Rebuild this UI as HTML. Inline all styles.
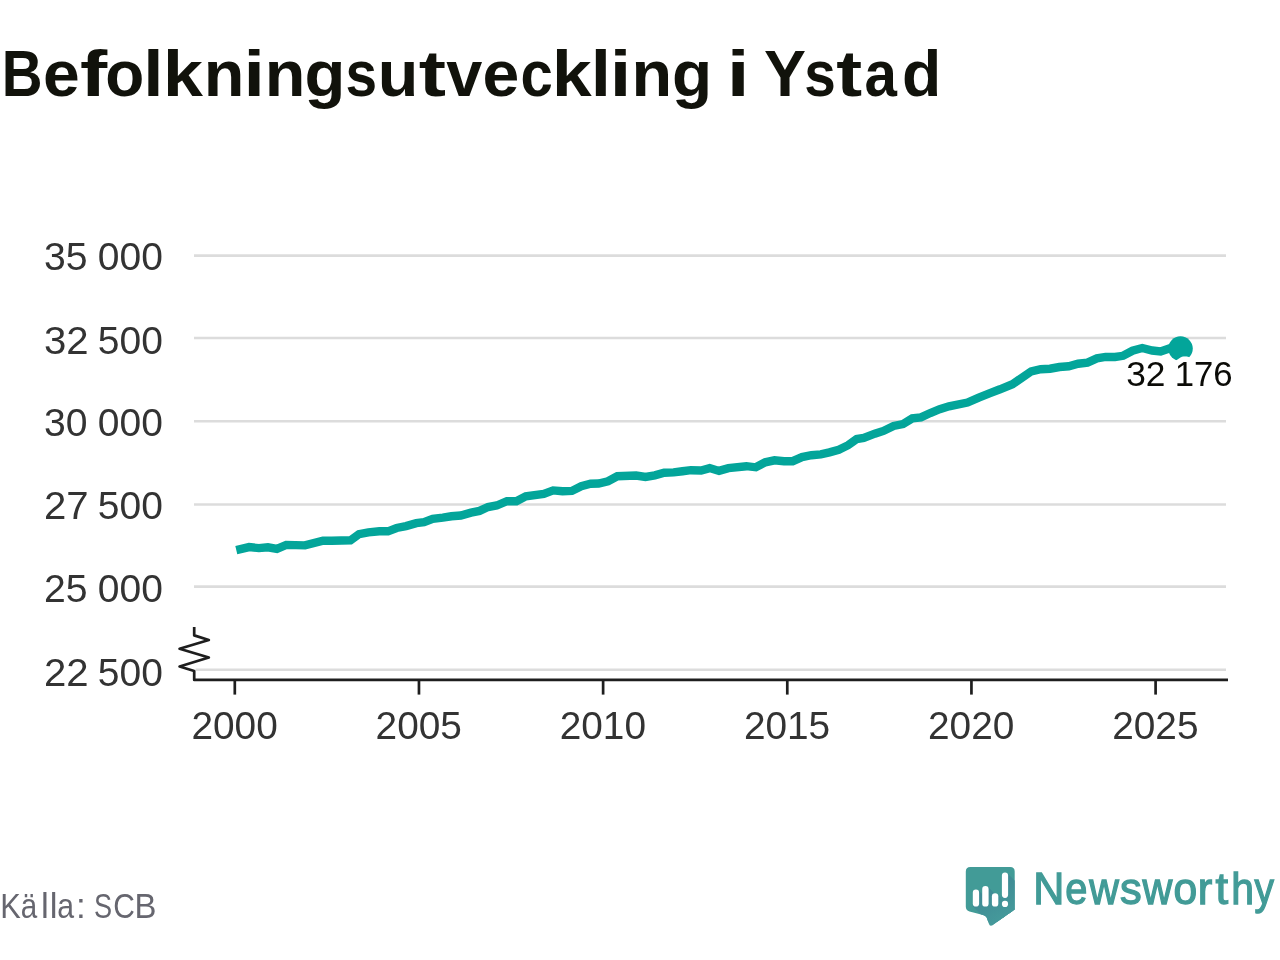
<!DOCTYPE html>
<html><head><meta charset="utf-8"><title>Befolkningsutveckling i Ystad</title>
<style>
html,body{margin:0;padding:0;background:#fff;}
body{width:1280px;height:960px;overflow:hidden;position:relative;font-family:"Liberation Sans",sans-serif;}
svg{position:absolute;left:0;top:0;will-change:transform;}
text{font-family:"Liberation Sans",sans-serif;}
</style></head>
<body>
<svg width="1280" height="960" viewBox="0 0 1280 960">
<line x1="194" x2="1226" y1="255.60" y2="255.60" stroke="#dcdcdc" stroke-width="2.6"/>
<line x1="194" x2="1226" y1="338.00" y2="338.00" stroke="#dcdcdc" stroke-width="2.6"/>
<line x1="194" x2="1226" y1="421.20" y2="421.20" stroke="#dcdcdc" stroke-width="2.6"/>
<line x1="194" x2="1226" y1="504.50" y2="504.50" stroke="#dcdcdc" stroke-width="2.6"/>
<line x1="194" x2="1226" y1="586.60" y2="586.60" stroke="#dcdcdc" stroke-width="2.6"/>
<line x1="195.5" x2="1226" y1="669.80" y2="669.80" stroke="#dcdcdc" stroke-width="2.6"/>
<path d="M194.2,627 L194.2,635.4 L208.8,640 L179.6,648.75 L208.8,657.5 L179.6,666.5 L194.2,671 L194.2,679.9 L1228,679.9" fill="none" stroke="#1e1e1e" stroke-width="2.7" stroke-linejoin="round"/>
<line x1="234.80" x2="234.80" y1="679.9" y2="694.6" stroke="#1e1e1e" stroke-width="2.7"/>
<line x1="418.96" x2="418.96" y1="679.9" y2="694.6" stroke="#1e1e1e" stroke-width="2.7"/>
<line x1="603.12" x2="603.12" y1="679.9" y2="694.6" stroke="#1e1e1e" stroke-width="2.7"/>
<line x1="787.28" x2="787.28" y1="679.9" y2="694.6" stroke="#1e1e1e" stroke-width="2.7"/>
<line x1="971.44" x2="971.44" y1="679.9" y2="694.6" stroke="#1e1e1e" stroke-width="2.7"/>
<line x1="1155.60" x2="1155.60" y1="679.9" y2="694.6" stroke="#1e1e1e" stroke-width="2.7"/>
<path d="M236.3,550.2 L249.1,547.1 L258.9,548.1 L267.9,547.3 L276.9,548.9 L286.25,544.9 L305,545.4 L323,540.6 L331.7,540.7 L350.5,540.3 L359,534.1 L368.4,532.3 L379.4,531.3 L388,531.3 L396.6,528 L406,526.1 L416.3,523.2 L424,522.1 L432.7,518.75 L442.8,517.6 L451.4,516.25 L460.8,515.5 L471,512.7 L479.5,510.9 L488,507 L496.7,505.5 L506.9,501.2 L516.4,501.3 L525.8,496.25 L543.75,493.9 L553.1,490.4 L562.5,491.2 L571.9,490.9 L581.25,486.25 L590.6,483.75 L598.6,483.5 L608,481.25 L617.3,476.2 L636.1,475.5 L645.5,477 L654.8,475.4 L664.2,472.7 L673.6,472.4 L682.5,471.25 L690.9,470.2 L701.1,470.5 L709.7,468.1 L719,470.9 L728.4,468.1 L746.4,466.2 L755.8,467.3 L765.2,462.3 L774.5,460.3 L784,461.2 L792.7,461.2 L802,457.1 L811.4,455.2 L820.8,454.4 L829.4,452.4 L838.75,449.7 L848.1,445.2 L856.7,439.1 L863.75,438 L874.8,433.7 L883.4,430.9 L893.6,425.9 L903,424.1 L912.3,418.4 L920.9,417.3 L930.3,413 L939.7,409.2 L949,406.3 L967.5,402.5 L978.75,397.6 L990,393.1 L1000,389.3 L1012.5,384.2 L1031.25,371.4 L1040.7,369.2 L1050,368.75 L1059.4,367 L1068.75,366.3 L1078.1,363.75 L1087.5,362.6 L1096.9,358.4 L1105.6,356.9 L1115,357 L1123.1,355.8 L1132.5,350.7 L1142.3,348 L1152.2,350.5 L1160.6,351.5 L1170,348.2 L1180.5,348.5" fill="none" stroke="#03a59a" stroke-width="8.4" stroke-linejoin="miter" stroke-linecap="butt"/>
<circle cx="1180.5" cy="348.6" r="12.3" fill="#03a59a"/>
<text transform="translate(1126.20,385.6) scale(1.0243,1)" style="font-size:34.5px;fill:#0b0b07;fill:#fff;stroke:#fff;stroke-width:11px;stroke-linejoin:round;">32</text>
<text transform="translate(1174.68,385.6) scale(1.0075,1)" style="font-size:34.5px;fill:#0b0b07;fill:#fff;stroke:#fff;stroke-width:11px;stroke-linejoin:round;">176</text>
<text transform="translate(1126.20,385.6) scale(1.0243,1)" style="font-size:34.5px;fill:#0b0b07;">32</text>
<text transform="translate(1174.68,385.6) scale(1.0075,1)" style="font-size:34.5px;fill:#0b0b07;">176</text>
<text transform="translate(1.80,95.8) scale(0.8625,1)" style="font-size:65.5px;fill:#11120b;font-weight:bold;">B</text>
<text transform="translate(42.98,95.8) scale(1.0081,1)" style="font-size:65.5px;fill:#11120b;font-weight:bold;">e</text>
<text transform="translate(80.00,95.8) scale(1.2500,1)" style="font-size:65.5px;fill:#11120b;font-weight:bold;">f</text>
<text transform="translate(105.17,95.8) scale(0.9750,1)" style="font-size:65.5px;fill:#11120b;font-weight:bold;">o</text>
<text transform="translate(143.19,95.8) scale(1.1111,1)" style="font-size:65.5px;fill:#11120b;font-weight:bold;">l</text>
<text transform="translate(163.02,95.8) scale(1.0968,1)" style="font-size:65.5px;fill:#11120b;font-weight:bold;">k</text>
<text transform="translate(203.69,95.8) scale(1.0156,1)" style="font-size:65.5px;fill:#11120b;font-weight:bold;">n</text>
<text transform="translate(243.51,95.8) scale(1.1778,1)" style="font-size:65.5px;fill:#11120b;font-weight:bold;">i</text>
<text transform="translate(264.69,95.8) scale(1.0156,1)" style="font-size:65.5px;fill:#11120b;font-weight:bold;">n</text>
<text transform="translate(304.43,95.8) scale(1.0227,1)" style="font-size:65.5px;fill:#11120b;font-weight:bold;">g</text>
<text transform="translate(345.50,95.8) scale(0.8677,1)" style="font-size:65.5px;fill:#11120b;font-weight:bold;">s</text>
<text transform="translate(377.84,95.8) scale(1.0156,1)" style="font-size:65.5px;fill:#11120b;font-weight:bold;">u</text>
<text transform="translate(418.75,95.8) scale(1.2500,1)" style="font-size:65.5px;fill:#11120b;font-weight:bold;">t</text>
<text transform="translate(446.25,95.8) scale(0.9903,1)" style="font-size:65.5px;fill:#11120b;font-weight:bold;">v</text>
<text transform="translate(482.57,95.8) scale(1.0097,1)" style="font-size:65.5px;fill:#11120b;font-weight:bold;">e</text>
<text transform="translate(520.44,95.8) scale(0.8871,1)" style="font-size:65.5px;fill:#11120b;font-weight:bold;">c</text>
<text transform="translate(552.06,95.8) scale(1.0887,1)" style="font-size:65.5px;fill:#11120b;font-weight:bold;">k</text>
<text transform="translate(590.69,95.8) scale(1.1111,1)" style="font-size:65.5px;fill:#11120b;font-weight:bold;">l</text>
<text transform="translate(609.68,95.8) scale(1.1833,1)" style="font-size:65.5px;fill:#11120b;font-weight:bold;">i</text>
<text transform="translate(631.54,95.8) scale(1.0156,1)" style="font-size:65.5px;fill:#11120b;font-weight:bold;">n</text>
<text transform="translate(671.99,95.8) scale(1.0030,1)" style="font-size:65.5px;fill:#11120b;font-weight:bold;">g</text>
<text transform="translate(726.82,95.8) scale(1.2556,1)" style="font-size:65.5px;fill:#11120b;font-weight:bold;">i</text>
<text transform="translate(764.04,95.8) scale(0.9610,1)" style="font-size:65.5px;fill:#11120b;font-weight:bold;">Y</text>
<text transform="translate(804.30,95.8) scale(0.8661,1)" style="font-size:65.5px;fill:#11120b;font-weight:bold;">s</text>
<text transform="translate(836.31,95.8) scale(1.1875,1)" style="font-size:65.5px;fill:#11120b;font-weight:bold;">t</text>
<text transform="translate(864.47,95.8) scale(0.8900,1)" style="font-size:65.5px;fill:#11120b;font-weight:bold;">a</text>
<text transform="translate(901.95,95.8) scale(0.9818,1)" style="font-size:65.5px;fill:#11120b;font-weight:bold;">d</text>
<text transform="translate(43.99,270.3) scale(1.0295,1)" style="font-size:38px;fill:#333;">35</text>
<text transform="translate(97.85,270.3) scale(1.0267,1)" style="font-size:38px;fill:#333;">000</text>
<text transform="translate(43.94,353.5) scale(1.0566,1)" style="font-size:38px;fill:#333;">32</text>
<text transform="translate(97.85,353.5) scale(1.0267,1)" style="font-size:38px;fill:#333;">500</text>
<text transform="translate(43.99,436.0) scale(1.0295,1)" style="font-size:38px;fill:#333;">30</text>
<text transform="translate(97.85,436.0) scale(1.0267,1)" style="font-size:38px;fill:#333;">000</text>
<text transform="translate(43.94,519.1) scale(1.0566,1)" style="font-size:38px;fill:#333;">27</text>
<text transform="translate(97.85,519.1) scale(1.0267,1)" style="font-size:38px;fill:#333;">500</text>
<text transform="translate(43.99,602.3) scale(1.0295,1)" style="font-size:38px;fill:#333;">25</text>
<text transform="translate(97.85,602.3) scale(1.0267,1)" style="font-size:38px;fill:#333;">000</text>
<text transform="translate(43.94,685.6) scale(1.0566,1)" style="font-size:38px;fill:#333;">22</text>
<text transform="translate(97.85,685.6) scale(1.0267,1)" style="font-size:38px;fill:#333;">500</text>
<text transform="translate(191.41,739.0) scale(1.0210,1)" style="font-size:38px;fill:#333;">2000</text>
<text transform="translate(375.57,739.0) scale(1.0210,1)" style="font-size:38px;fill:#333;">2005</text>
<text transform="translate(559.73,739.0) scale(1.0210,1)" style="font-size:38px;fill:#333;">2010</text>
<text transform="translate(743.89,739.0) scale(1.0210,1)" style="font-size:38px;fill:#333;">2015</text>
<text transform="translate(928.05,739.0) scale(1.0210,1)" style="font-size:38px;fill:#333;">2020</text>
<text transform="translate(1112.21,739.0) scale(1.0210,1)" style="font-size:38px;fill:#333;">2025</text>
<text transform="translate(0.16,917.7) scale(0.8800,1)" style="font-size:35px;fill:#66666f;">K</text>
<text transform="translate(20.81,917.7) scale(0.8471,1)" style="font-size:35px;fill:#66666f;">ä</text>
<text transform="translate(41.00,917.7) scale(1.0000,1)" style="font-size:35px;fill:#66666f;">l</text>
<text transform="translate(49.78,917.7) scale(1.0000,1)" style="font-size:35px;fill:#66666f;">l</text>
<text transform="translate(57.37,917.7) scale(0.8647,1)" style="font-size:35px;fill:#66666f;">a</text>
<text transform="translate(76.03,917.7) scale(1.0000,1)" style="font-size:35px;fill:#66666f;">:</text>
<text transform="translate(94.05,917.7) scale(0.7750,1)" style="font-size:35px;fill:#66666f;">S</text>
<text transform="translate(113.29,917.7) scale(0.8571,1)" style="font-size:35px;fill:#66666f;">C</text>
<text transform="translate(134.38,917.7) scale(0.9389,1)" style="font-size:35px;fill:#66666f;">B</text>
<text transform="translate(1033.23,903.7) scale(0.9577,1)" style="font-size:45px;fill:#429b97;stroke:#429b97;stroke-width:1.3px;">N</text>
<text transform="translate(1065.17,903.7) scale(0.8848,1)" style="font-size:45px;fill:#429b97;stroke:#429b97;stroke-width:1.3px;">e</text>
<text transform="translate(1089.31,903.7) scale(0.9118,1)" style="font-size:45px;fill:#429b97;stroke:#429b97;stroke-width:1.3px;">w</text>
<text transform="translate(1119.94,903.7) scale(0.9650,1)" style="font-size:45px;fill:#429b97;stroke:#429b97;stroke-width:1.3px;">s</text>
<text transform="translate(1142.52,903.7) scale(0.9176,1)" style="font-size:45px;fill:#429b97;stroke:#429b97;stroke-width:1.3px;">w</text>
<text transform="translate(1173.55,903.7) scale(0.9478,1)" style="font-size:45px;fill:#429b97;stroke:#429b97;stroke-width:1.3px;">o</text>
<text transform="translate(1197.66,903.7) scale(0.9692,1)" style="font-size:45px;fill:#429b97;stroke:#429b97;stroke-width:1.3px;">r</text>
<text transform="translate(1215.50,903.7) scale(1.0077,1)" style="font-size:45px;fill:#429b97;stroke:#429b97;stroke-width:1.3px;">t</text>
<text transform="translate(1231.18,903.7) scale(0.9095,1)" style="font-size:45px;fill:#429b97;stroke:#429b97;stroke-width:1.3px;">h</text>
<text transform="translate(1254.61,903.7) scale(0.8646,1)" style="font-size:45px;fill:#429b97;stroke:#429b97;stroke-width:1.3px;">y</text>
<defs><clipPath id="bc"><path d="M970.3,866.9 L1010.2,866.9 Q1014.7,866.9 1014.7,871.4 L1014.7,909.6 L992.3,925.2 Q989.8,926.6 988.9,923.8 L986.6,917.6 Q985.6,915.6 983,915 L969.5,911.5 Q965.8,910.3 965.8,906.5 L965.8,871.4 Q965.8,866.9 970.3,866.9 Z"/></clipPath>
<linearGradient id="sg" gradientUnits="userSpaceOnUse" x1="982" y1="888" x2="1004" y2="920"><stop offset="0" stop-color="#3e8893"/><stop offset="1" stop-color="#459a9b"/></linearGradient></defs>
<path d="M970.3,866.9 L1010.2,866.9 Q1014.7,866.9 1014.7,871.4 L1014.7,909.6 L992.3,925.2 Q989.8,926.6 988.9,923.8 L986.6,917.6 Q985.6,915.6 983,915 L969.5,911.5 Q965.8,910.3 965.8,906.5 L965.8,871.4 Q965.8,866.9 970.3,866.9 Z" fill="#429b97"/>
<g clip-path="url(#bc)" fill="url(#sg)"><polygon points="972.8,891.5 979.1,891 1019.1,931 1019.1,946.6 1012.8,946.6 972.8,906.6"/><polygon points="982.2,887.9 988.6,887.4 1028.6,927.4 1028.6,946.6 1022.2,946.6 982.2,906.6"/><polygon points="991.9,895.2 998.3,894.7 1038.3,934.7 1038.3,946.6 1031.9,946.6 991.9,906.6"/><polygon points="1001.9,874.4 1008.1,873.9 1048.1,913.9 1048.1,937.9 1041.9,937.9 1001.9,897.9"/><polygon points="1001.9,902.8 1008.1,902.3 1048.1,942.3 1048.1,947 1041.9,947 1001.9,907"/></g>
<g fill="#fff">
<rect x="972.8" y="889.5" width="6.3" height="17.1" rx="3.15"/>
<rect x="982.2" y="885.9" width="6.4" height="20.7" rx="3.2"/>
<rect x="991.9" y="893.2" width="6.4" height="13.4" rx="3.2"/>
<rect x="1001.9" y="872.4" width="6.2" height="25.5" rx="3.1"/>
<circle cx="1005" cy="903.9" r="3.1"/>
</g>
</svg>
</body></html>
